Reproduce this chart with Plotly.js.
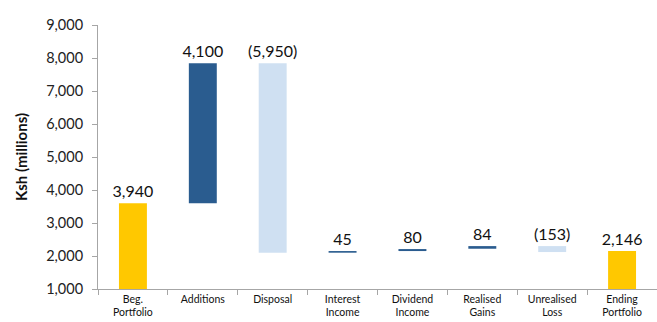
<!DOCTYPE html>
<html>
<head>
<meta charset="utf-8">
<script src="https://cdn.plot.ly/plotly-3.0.1.min.js"></script>
<style>html,body{margin:0;padding:0;background:#fff;}#chart{width:657px;height:322px;}</style>
</head>
<body>
<div id="chart"></div>
<script>
const categories = ['Beg.<br>Portfolio', 'Additions', 'Disposal', 'Interest<br>Income', 'Dividend<br>Income', 'Realised<br>Gains', 'Unrealised<br>Loss', 'Ending<br>Portfolio'];
const barBottom = [1000, 3600, 2100, 2100, 2150, 2220, 2120, 1000];
const barTop = [3600, 7840, 7840, 2150, 2210, 2300, 2300, 2150];
const labels = ['3,940', '4,100', '(5,950)', '45', '80', '84', '(153)', '2,146'];
const kinds = ['total', 'up', 'down', 'up', 'up', 'up', 'down', 'total'];
const yTicks = [1000, 2000, 3000, 4000, 5000, 6000, 7000, 8000, 9000];

const colorMap = {total: '#FFC800', up: '#2A5C8F', down: '#CFE0F2'};

const trace = {
  type: 'bar',
  x: categories,
  base: barBottom,
  y: barTop.map((t, i) => t - barBottom[i]),
  marker: {color: kinds.map(k => colorMap[k]), line: {width: 0}},
  width: 0.4,
  text: labels,
  textposition: 'outside',
  constraintext: 'none',
  cliponaxis: false,
  textfont: {family: 'Lato, "Open Sans", sans-serif', size: 16, color: '#111'},
  hoverinfo: 'none'
};

const layout = {
  width: 657, height: 322,
  margin: {l: 98, r: 0, t: 25, b: 33},
  paper_bgcolor: '#fff', plot_bgcolor: '#fff',
  showlegend: false,
  font: {family: 'Lato, "Open Sans", sans-serif', color: '#222'},
  xaxis: {
    type: 'category',
    showline: true, linecolor: '#A6A6A6', linewidth: 1,
    ticks: 'outside', tickson: 'boundaries', ticklen: 5, tickcolor: '#A6A6A6',
    tickfont: {size: 10.5, color: '#111'},
    showgrid: false, zeroline: false
  },
  yaxis: {
    range: [1000, 9000],
    tickvals: yTicks,
    ticktext: yTicks.map(v => v.toLocaleString('en-US')),
    showline: true, linecolor: '#A6A6A6', linewidth: 1,
    ticks: 'outside', ticklen: 5, tickcolor: '#A6A6A6',
    ticklabelstandoff: 6,
    tickfont: {size: 14.5, color: '#222'},
    showgrid: false, zeroline: false,
    title: {text: '<b>Ksh (millions)</b>', font: {size: 15, color: '#111'}, standoff: 14}
  }
};

Plotly.newPlot('chart', [trace], layout, {displayModeBar: false, staticPlot: true});
</script>
</body>
</html>
